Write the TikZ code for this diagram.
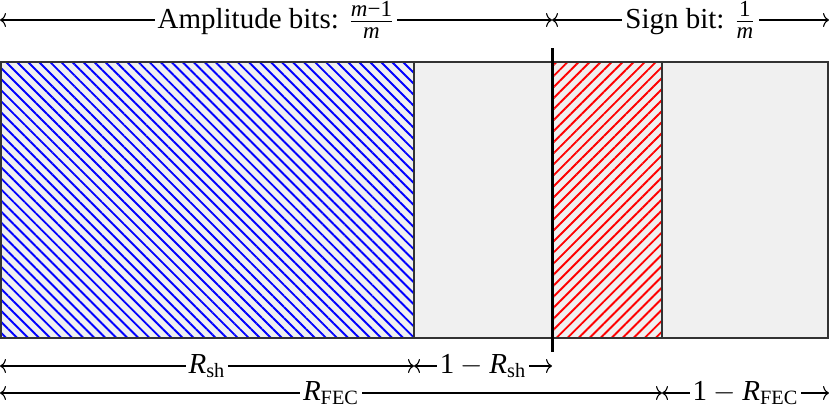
\documentclass[tikz,border=0pt]{standalone}
\usepackage{amsmath}
\usepackage{fontspec}
\setmainfont{Liberation Serif}
\usetikzlibrary{patterns.meta,arrows.meta}
\newcommand{\Rs}[1]{\text{\textit{R}}_{\text{#1}}}
\newcommand{\fr}[1]{\text{\fontsize{11.5}{12}\selectfont #1}}
\begin{document}
\begin{tikzpicture}[x=0.5pt,y=-0.5pt,
  font=\fontsize{14.5}{17}\selectfont,
  dim/.style={{To[length=3pt,width=7pt]}-{To[length=3pt,width=7pt]}, line width=0.55pt},
  lab/.style={fill=white, inner xsep=1.5pt, inner ysep=1pt},
  border/.style={draw=black!80, line width=0.8pt},
  ampfill/.style={pattern={Lines[angle=-45,distance=3.9pt,line width=0.95pt]}, pattern color=blue},
  signfill/.style={pattern={Lines[angle=45,distance=3.9pt,line width=0.95pt]}, pattern color=red}]
\useasboundingbox (0,0) rectangle (829,409);
% coordinates
\coordinate (tl) at (1,62);
\coordinate (br) at (828,338);
\coordinate (a0) at (0,20);  \coordinate (a1) at (552,20);  \coordinate (a2) at (829,20);
\coordinate (r0) at (0,366); \coordinate (r1) at (414,366); \coordinate (r2) at (552,366);
\coordinate (f0) at (0,393); \coordinate (f1) at (662,393); \coordinate (f2) at (829,393);
\coordinate (vt) at (552,48); \coordinate (vb) at (552,352);
% regions
\fill[black!6] (tl) rectangle (br);
\path[ampfill] (1,62) rectangle (414,338);
\path[signfill] (552,62) rectangle (662,338);
\draw[border] (414,62) -- (414,338);
\draw[border] (662,62) -- (662,338);
\draw[border] (tl) rectangle (br);
\draw[line width=1.5pt] (vt) -- (vb);
% dimension lines
\draw[dim] (a0) -- node[lab] {Amplitude bits: $\frac{\fr{\textit{m}−1}}{\fr{\textit{m}}}$} (a1);
\draw[dim] (a1) -- node[lab] {Sign bit: $\frac{\fr{1}}{\fr{\textit{m}}}$} (a2);
\draw[dim] (r0) -- node[lab] {$\Rs{sh}$} (r1);
\draw[dim] (r1) -- node[lab] {$\text{1} - \Rs{sh}$} (r2);
\draw[dim] (f0) -- node[lab] {$\Rs{FEC}$} (f1);
\draw[dim] (f1) -- node[lab] {$\text{1} - \Rs{FEC}$} (f2);
\end{tikzpicture}
\end{document}
